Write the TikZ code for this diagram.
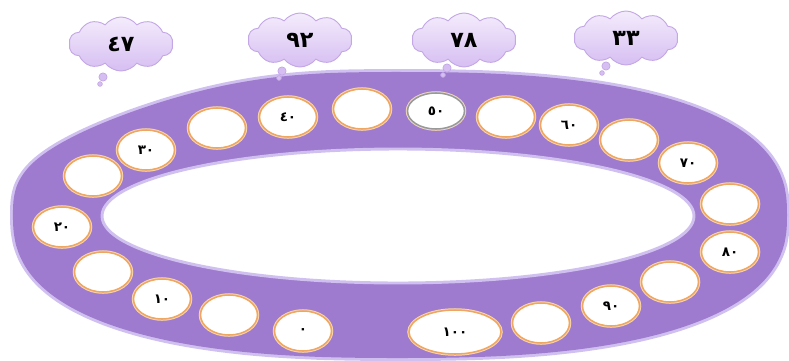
\documentclass[tikz,border=0pt]{standalone}
\usepackage{fontspec}
\newfontfamily\arabicfont[Script=Arabic]{DejaVu Sans}
\usetikzlibrary{shapes.symbols,shapes.geometric}
\definecolor{ringpurple}{RGB}{158,123,206}
\definecolor{ringglow}{RGB}{208,192,240}
\definecolor{peach}{RGB}{238,166,96}
\definecolor{peachlight}{RGB}{250,214,170}
\definecolor{cloudfill}{RGB}{214,190,242}
\definecolor{cloudtop}{RGB}{244,236,252}
\definecolor{cloudline}{RGB}{196,168,230}
\tikzset{
  slot/.style={ellipse, fill=white, draw=peach, line width=1.3pt,
    preaction={draw=peachlight, line width=3pt},
    minimum width=57*0.03cm, minimum height=40*0.03cm, inner sep=0pt,
    font=\arabicfont\bfseries\fontsize{11.5}{13}\selectfont},
  grayslot/.style={slot, draw=gray!80, preaction={draw=gray!30, line width=2pt},
    minimum height=36*0.03cm},
  thought/.style={cloud, cloud puffs=10, cloud puff arc=105, aspect=1.9,
    top color=cloudtop, bottom color=cloudfill, draw=cloudline, line width=0.8pt,
    minimum width=104*0.03cm, minimum height=54*0.03cm, inner sep=0pt,
    font=\arabicfont\bfseries\fontsize{19}{22}\selectfont},
  bubble/.style={circle, fill=cloudfill, draw=cloudline, line width=0.6pt, inner sep=0pt},
  ringshape/.style={domain=0:360, samples=240, smooth, variable=\t}
}
% superellipse-like outline of the ring
\def\ringx{400+387*sign(cos(\t))*pow(abs(cos(\t))+0.00001,2/(2.5-max(0,-cos(\t))*max(0,sin(\t))))}
\def\ringy{215-143*sign(sin(\t))*pow(abs(sin(\t))+0.00001,2/(2.5-max(0,-cos(\t))*max(0,sin(\t))))}
\begin{document}
\begin{tikzpicture}[x=0.03cm, y=-0.03cm]
\useasboundingbox (0,0) rectangle (789,360);
% ring
\draw[ringglow, line width=5pt, fill=ringpurple]
  plot[ringshape] ({\ringx},{\ringy}) -- cycle;
\fill[ringpurple] plot[ringshape] ({\ringx},{\ringy}) -- cycle;
\draw[ringglow, line width=2.5pt, fill=white] (398,216) ellipse [x radius=296, y radius=67];
% slots
\node[slot] (c1) at (303,331) {٠};
\node[slot] (c2) at (229,315) {};
\node[slot] (c3) at (162,299) {١٠};
\node[slot] (c4) at (103,272) {};
\node[slot] (c5) at (62,227) {٢٠};
\node[slot] (c6) at (93,176) {};
\node[slot] (c7) at (146,150) {٣٠};
\node[slot] (c8) at (217,128) {};
\node[slot] (c9) at (288,117) {٤٠};
\node[slot] (c10) at (362,109) {};
\node[grayslot] (c11) at (436,111) {٥٠};
\node[slot] (c12) at (506,117) {};
\node[slot] (c13) at (569,125) {٦٠};
\node[slot] (c14) at (629,140) {};
\node[slot] (c15) at (688,163) {٧٠};
\node[slot] (c16) at (730,204) {};
\node[slot] (c17) at (730,252) {٨٠};
\node[slot] (c18) at (670,282) {};
\node[slot] (c19) at (611,306) {٩٠};
\node[slot] (c20) at (541,323) {};
\node[slot, minimum width=92*0.03cm, minimum height=44*0.03cm] (c21) at (455,332) {١٠٠};
% thought clouds
\node[bubble, minimum size=4pt] (t1b) at (100,84) {};
\node[bubble, minimum size=7pt] (t1a) at (103,77) {};
\node[thought] (k1) at (121,44) {٤٧};
\node[bubble, minimum size=4pt] (t2b) at (279,78) {};
\node[bubble, minimum size=7pt] (t2a) at (282,71) {};
\node[thought] (k2) at (300,40) {٩٢};
\node[bubble, minimum size=4pt] (t3b) at (443,75) {};
\node[bubble, minimum size=7pt] (t3a) at (447,68) {};
\node[thought] (k3) at (464,40) {٧٨};
\node[bubble, minimum size=4pt] (t4b) at (602,73) {};
\node[bubble, minimum size=7pt] (t4a) at (606,66) {};
\node[thought] (k4) at (626,38) {٣٣};
\end{tikzpicture}
\end{document}
